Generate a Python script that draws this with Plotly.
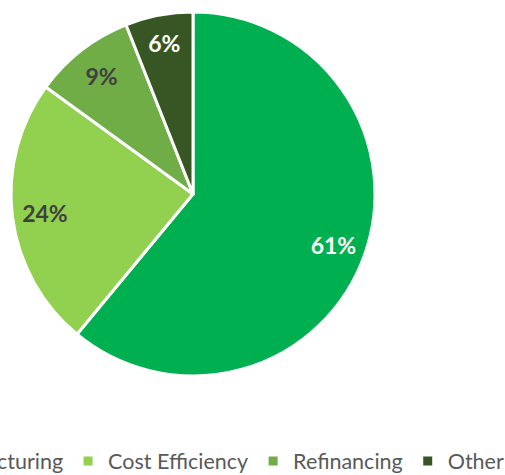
import plotly.graph_objects as go

labels = ["Restructuring", "Cost Efficiency", "Refinancing", "Other"]
values = [61, 24, 9, 6]
colors = ["#00B050", "#92D050", "#70AD47", "#375623"]
text_colors = ["#FFFFFF", "#404040", "#404040", "#FFFFFF"]

SHIFT = 180          # part of the chart that lies left of the visible window
W, H = 509 + SHIFT, 475

dom = dict(x=[(SHIFT + 11) / W, (SHIFT + 375) / W], y=[99 / H, 463 / H])

# full pie with white separators
pie = go.Pie(
    labels=labels, values=values, sort=False, direction="clockwise", rotation=0,
    marker=dict(colors=colors, line=dict(color="#FFFFFF", width=3)),
    textinfo="none", domain=dom, hoverinfo="skip",
)
# transparent ring on top, only to place the percentage labels near the rim
ring = go.Pie(
    labels=labels, values=values, sort=False, direction="clockwise", rotation=0,
    hole=0.64, showlegend=False,
    marker=dict(colors=["rgba(0,0,0,0)"] * len(values), line=dict(width=0)),
    texttemplate="%{percent:.0%}", textposition="inside",
    insidetextorientation="horizontal",
    textfont=dict(family="Lato", size=23, color=text_colors, weight="bold"),
    domain=dom, hoverinfo="label+percent",
)

fig = go.Figure([pie, ring])
fig.update_layout(
    width=W, height=H,
    margin=dict(l=0, r=0, t=0, b=0, autoexpand=False),
    paper_bgcolor="white",
    showlegend=True,
    legend=dict(orientation="h", x=1, xanchor="right", y=(475 - 461) / H, yanchor="middle",
                font=dict(family="Lato", size=21.5, color="#595959")),
)

post = ("document.body.style.margin='0';document.body.style.overflow='hidden';"
        "document.getElementById('{plot_id}').style.marginLeft='-%dpx';" % SHIFT)
fig.write_html("out.html", post_script=post, config={"displayModeBar": False})
